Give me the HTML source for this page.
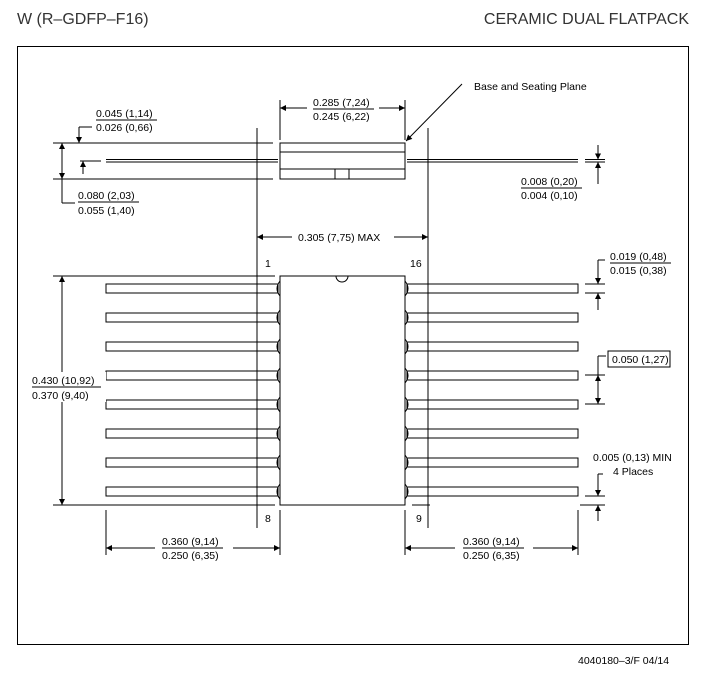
<!DOCTYPE html>
<html><head><meta charset="utf-8"><style>
html,body{margin:0;padding:0;background:#fff}
svg{display:block}
text{font-family:"Liberation Sans",sans-serif;fill:#000}
.d{font-size:10.5px}
</style></head><body>
<svg width="714" height="676" viewBox="0 0 714 676" xmlns="http://www.w3.org/2000/svg">
<defs>
<marker id="a" viewBox="0 0 10 10" refX="10" refY="5" markerWidth="8" markerHeight="6" orient="auto-start-reverse" markerUnits="userSpaceOnUse"><path d="M0,0L10,5L0,10z" fill="#000"/></marker>
</defs>
<text x="17" y="24" style="font-size:16px;fill:#333">W (R–GDFP–F16)</text>
<text x="689" y="24" text-anchor="end" style="font-size:16px;fill:#333">CERAMIC DUAL FLATPACK</text>
<rect x="17.5" y="46.5" width="671" height="598" fill="none" stroke="#000"/>
<g stroke="#000" fill="none" stroke-width="1">
<line x1="53" y1="143" x2="273" y2="143"/>
<line x1="53" y1="179" x2="273" y2="179"/>
<line x1="80" y1="161" x2="101" y2="161"/>
<rect x="280" y="143" width="125" height="36"/>
<line x1="280" y1="152" x2="405" y2="152"/>
<line x1="280" y1="169" x2="405" y2="169"/>
<rect x="335" y="169" width="14" height="10"/>
<line x1="106" y1="159.5" x2="278" y2="159.5"/>
<line x1="106" y1="162" x2="278" y2="162"/>
<line x1="407" y1="159.5" x2="578" y2="159.5"/>
<line x1="407" y1="162" x2="578" y2="162"/>
<line x1="585" y1="159.5" x2="605" y2="159.5"/>
<line x1="585" y1="162" x2="605" y2="162"/>
<line x1="257" y1="128" x2="257" y2="528"/>
<line x1="428" y1="128" x2="428" y2="528"/>
<line x1="280" y1="100" x2="280" y2="140"/>
<line x1="405" y1="100" x2="405" y2="140"/>
<line x1="280" y1="108" x2="405" y2="108" marker-start="url(#a)" marker-end="url(#a)"/>
<line x1="62" y1="143" x2="62" y2="179" marker-start="url(#a)" marker-end="url(#a)"/>
<line x1="62" y1="179" x2="62" y2="203"/><line x1="62" y1="203" x2="75" y2="203"/>
<line x1="79" y1="127" x2="79" y2="143" marker-end="url(#a)"/>
<line x1="79" y1="127" x2="92" y2="127"/>
<line x1="83" y1="174" x2="83" y2="161" marker-end="url(#a)"/>
<line x1="598" y1="145" x2="598" y2="159.5" marker-end="url(#a)"/>
<line x1="598" y1="176" x2="598" y2="162" marker-end="url(#a)"/>
<line x1="598" y1="176" x2="598" y2="184"/>
<line x1="462" y1="84" x2="406" y2="141" marker-end="url(#a)"/>
<line x1="257" y1="237" x2="428" y2="237" marker-start="url(#a)" marker-end="url(#a)"/>
<rect x="280" y="276" width="125" height="229"/>
<path d="M336,276 A6,6 0 0 0 348,276" />
<line x1="53" y1="276" x2="275" y2="276"/>
<line x1="53" y1="505" x2="275" y2="505"/>
<line x1="412" y1="505" x2="430" y2="505"/>
<line x1="62" y1="276" x2="62" y2="505" marker-start="url(#a)" marker-end="url(#a)"/>
<g id="L">
<rect x="106" y="284" width="172" height="9"/>
<rect x="407" y="284" width="171" height="9"/>
<path d="M280,281 Q274,288.5 280,296"/>
<path d="M405,281 Q411,288.5 405,296"/>
</g>
<use href="#L" y="29"/><use href="#L" y="58"/><use href="#L" y="87"/><use href="#L" y="116"/><use href="#L" y="145"/><use href="#L" y="174"/><use href="#L" y="203"/>
<line x1="585" y1="284" x2="605" y2="284"/>
<line x1="585" y1="293" x2="605" y2="293"/>
<line x1="598" y1="260" x2="598" y2="284" marker-end="url(#a)"/>
<line x1="598" y1="260" x2="605" y2="260"/>
<line x1="598" y1="310" x2="598" y2="293" marker-end="url(#a)"/>
<line x1="585" y1="375" x2="605" y2="375"/>
<line x1="585" y1="404" x2="605" y2="404"/>
<line x1="598" y1="375" x2="598" y2="404" marker-start="url(#a)" marker-end="url(#a)"/>
<line x1="598" y1="356" x2="598" y2="375"/><line x1="598" y1="356" x2="606" y2="356"/>
<line x1="585" y1="496" x2="605" y2="496"/>
<line x1="580" y1="505" x2="605" y2="505"/>
<line x1="598" y1="474" x2="598" y2="496" marker-end="url(#a)"/>
<line x1="598" y1="474" x2="603" y2="474"/>
<line x1="598" y1="521" x2="598" y2="505" marker-end="url(#a)"/>
<rect x="608" y="351" width="62" height="16"/>
<line x1="106" y1="510" x2="106" y2="555"/>
<line x1="280" y1="510" x2="280" y2="555"/>
<line x1="405" y1="510" x2="405" y2="555"/>
<line x1="578" y1="510" x2="578" y2="555"/>
<line x1="106" y1="548" x2="280" y2="548" marker-start="url(#a)" marker-end="url(#a)"/>
<line x1="405" y1="548" x2="578" y2="548" marker-start="url(#a)" marker-end="url(#a)"/>
</g>
<g class="d">
<rect x="155" y="540" width="78" height="22" fill="#fff"/>
<rect x="455" y="540" width="78" height="22" fill="#fff"/>
<rect x="292" y="230" width="102" height="14" fill="#fff"/>
<rect x="307" y="100" width="72" height="16" fill="#fff"/>
<rect x="30" y="372" width="76" height="30" fill="#fff"/>
<text x="96" y="117">0.045 (1,14)</text><line x1="96" y1="120" x2="157" y2="120" stroke="#000"/>
<text x="96" y="131">0.026 (0,66)</text>
<text x="78" y="199">0.080 (2,03)</text><line x1="78" y1="202" x2="139" y2="202" stroke="#000"/>
<text x="78" y="214">0.055 (1,40)</text>
<text x="313" y="106">0.285 (7,24)</text><line x1="313" y1="109" x2="374" y2="109" stroke="#000"/>
<text x="313" y="120">0.245 (6,22)</text>
<text x="474" y="90">Base and Seating Plane</text>
<text x="521" y="185">0.008 (0,20)</text><line x1="521" y1="188" x2="582" y2="188" stroke="#000"/>
<text x="521" y="199">0.004 (0,10)</text>
<text x="298" y="241">0.305 (7,75) MAX</text>
<text x="265" y="267">1</text><text x="410" y="267">16</text>
<text x="265" y="522">8</text><text x="416" y="522">9</text>
<text x="610" y="260">0.019 (0,48)</text><line x1="610" y1="263" x2="671" y2="263" stroke="#000"/>
<text x="610" y="274">0.015 (0,38)</text>
<text x="612" y="363">0.050 (1,27)</text>
<text x="593" y="461">0.005 (0,13) MIN</text>
<text x="613" y="475">4 Places</text>
<text x="32" y="384">0.430 (10,92)</text><line x1="32" y1="387" x2="101" y2="387" stroke="#000"/>
<text x="32" y="399">0.370 (9,40)</text>
<text x="162" y="545">0.360 (9,14)</text><line x1="162" y1="548" x2="223" y2="548" stroke="#000"/>
<text x="162" y="559">0.250 (6,35)</text>
<text x="463" y="545">0.360 (9,14)</text><line x1="463" y1="548" x2="524" y2="548" stroke="#000"/>
<text x="463" y="559">0.250 (6,35)</text>
<text x="578" y="664">4040180–3/F  04/14</text>
</g>
</svg>
</body></html>
